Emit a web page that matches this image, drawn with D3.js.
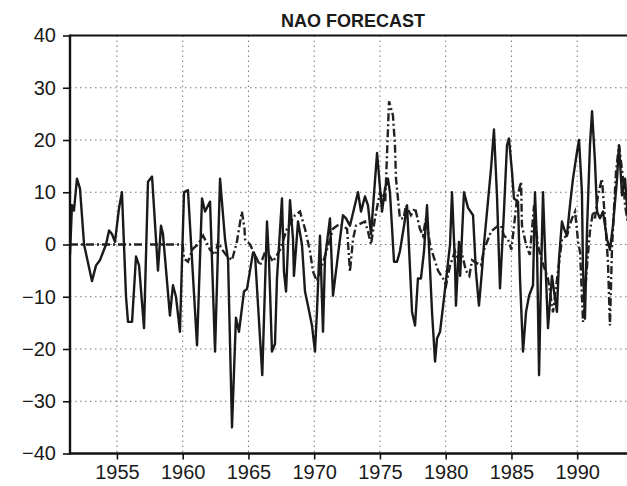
<!DOCTYPE html>
<html>
<head>
<meta charset="utf-8">
<script src="https://cdn.jsdelivr.net/npm/d3@7"></script>
<style>
  html, body { margin: 0; padding: 0; background: #fff; }
  svg { display: block; }
</style>
</head>
<body>
<svg id="chart" width="627" height="486"></svg>
<script>
// Observed NAO index (solid line): decimal year and value
const obsYears = [1951.43,1951.58,1951.73,1951.96,1952.19,1952.5,1953.10,1953.41,1953.71,1954.17,1954.40,1954.62,1954.85,1955.16,1955.38,1955.69,1955.84,1956.15,1956.45,1956.68,1957.06,1957.36,1957.67,1958.12,1958.35,1958.50,1959.03,1959.26,1959.49,1959.79,1960.10,1960.40,1961.09,1961.47,1961.70,1962.08,1962.46,1962.84,1963.22,1963.45,1963.75,1964.05,1964.28,1964.66,1964.89,1965.35,1965.50,1966.05,1966.41,1966.56,1966.79,1967.02,1967.17,1967.55,1967.70,1967.86,1968.16,1968.39,1968.46,1968.77,1969.07,1969.30,1969.53,1969.83,1970.06,1970.21,1970.44,1970.67,1970.82,1971.20,1971.43,1971.81,1972.19,1972.42,1972.72,1973.33,1973.56,1973.86,1974.09,1974.32,1974.78,1975.16,1975.38,1975.61,1975.76,1976.07,1976.30,1976.52,1976.83,1977.06,1977.44,1977.67,1977.89,1978.12,1978.35,1978.58,1978.96,1979.19,1979.34,1979.57,1979.87,1980.33,1980.48,1980.71,1980.78,1981.01,1981.10,1981.39,1981.70,1982.08,1982.30,1982.53,1982.76,1982.91,1983.45,1983.67,1983.90,1984.13,1984.43,1984.66,1984.81,1985.04,1985.19,1985.50,1985.65,1985.88,1986.11,1986.34,1986.64,1986.79,1986.94,1987.10,1987.25,1987.40,1987.63,1987.78,1988.08,1988.24,1988.46,1988.62,1988.84,1989.00,1989.22,1989.45,1989.68,1989.99,1990.14,1990.36,1990.44,1990.59,1990.75,1990.97,1991.13,1991.35,1991.51,1991.73,1991.96,1992.27,1992.49,1992.72,1993.03,1993.18,1993.41,1993.64,1993.85];
const obsValues = [-2,7.5,6.5,12.6,10.7,0,-7,-4,-3,0,2.7,2,0.5,7,10,-10,-14.8,-14.8,-2.3,-4,-16,12,13,-5,3.6,2,-13.6,-7.8,-10,-16.7,10,10.4,-19.3,8.8,6.3,8.2,-20.5,12.6,1,-3,-35,-14,-16.7,-9,-8.5,-1.5,-2,-25,4.4,-2.7,-20.5,-19,-6.5,8.8,-5.2,-9,8.5,1,-6,4.4,0,-9,-11.7,-15.5,-20.5,-12.9,1.7,-16.7,-2.7,5,-9.8,-2,5.6,5,3.6,10,6.3,9.2,7.5,2,17.5,6.3,10.7,12.6,10,-3.3,-3.3,-1.3,3.6,7.5,-12.9,-15.5,-6.5,-6.5,-1.3,7.5,-12.9,-22.4,-18,-16.7,-10.3,0,10,-4,-11.7,0.5,-6,10,7,5.6,-5.2,-11.7,-5,0,14.6,22,9.4,-8.4,6.3,19,20.3,14,8.8,8.2,-6.5,-20.5,-12.9,-9.8,-7.8,10,0,-25,-6,10,-6.5,-16,-6,-9,-12.9,-2.7,4.4,3,1.7,7.5,12.6,17.8,20,10,-4.6,-14.2,3,19,25.5,16,6.3,5,6.3,1,-1,3.6,12.6,19,9.4,12.6,5];

// Forecast NAO index (dash-dot line)
const fcstYears = [1951.43,1960.0,1960.10,1960.40,1960.78,1961.16,1961.55,1962.08,1962.46,1962.70,1963.0,1963.30,1963.75,1964.12,1964.50,1964.70,1964.74,1965.12,1965.50,1965.88,1966.33,1966.87,1967.40,1967.93,1968.54,1968.92,1969.30,1969.68,1969.91,1970.21,1970.59,1970.97,1971.43,1971.96,1972.50,1972.72,1972.95,1973.18,1973.86,1974.09,1974.32,1974.62,1975.0,1975.4,1975.69,1975.99,1976.14,1976.22,1976.52,1976.8,1976.98,1977.36,1977.67,1978.04,1978.27,1978.50,1978.81,1979.04,1979.42,1979.80,1980.03,1980.33,1980.71,1981.09,1981.16,1981.54,1981.8,1982.0,1982.68,1982.91,1983.22,1983.45,1983.98,1984.20,1984.43,1984.74,1985.0,1985.42,1985.73,1985.80,1986.11,1986.4,1986.72,1987.0,1987.3,1987.78,1988.16,1988.4,1988.84,1989.22,1989.60,1989.84,1990.07,1990.22,1990.44,1990.75,1990.97,1991.20,1991.35,1991.58,1991.88,1992.11,1992.34,1992.49,1992.65,1992.95,1993.18,1993.49,1993.64,1993.85];
const fcstValues = [0,0,-2.7,-3.3,-0.8,0,1.7,-1,-2,0.5,-1,-2,-3,0.5,6.3,3,1,0,-2,-4,-1,-3.3,-1,3,5.6,6.3,3,-1.3,-5.2,-7,-4,-1,3,4,3,-5.2,1,3.6,4.4,2.5,0,5,10,8,27.4,24.7,19,12.6,5,5,7.5,5.6,7,3,1.7,5,0,-2,-5,-6.5,-7.8,-4,-1.3,-4,-1,-5,-6,-3,-4,-1,1,2.5,3.6,3.6,1.7,1,-1,8.8,12,3.6,0,-2,7.5,0,-3,-6.5,-13,-8,1,1.7,5,6.3,0.5,-1.5,-14.8,-4,2.5,6.3,5,9.4,12.6,5,-3.3,-15.5,-0.5,14,19,12.6,7.5,4];

const yTicks = [-40, -30, -20, -10, 0, 10, 20, 30, 40];
const xTicks = [1955, 1960, 1965, 1970, 1975, 1980, 1985, 1990];
const titleText = "NAO FORECAST";

const svg = d3.select("#chart");
const plotLeft = 70, plotTop = 35.5, plotBottom = 453.5, plotRight = 627;

const x = d3.scaleLinear().domain([1951.43, 1994]).range([plotLeft, plotLeft + 42.57 * 13.15]);
const y = d3.scaleLinear().domain([-40, 40]).range([plotBottom, plotTop]);

const font = "'Liberation Sans', Arial, sans-serif";

// dotted grid
const grid = svg.append("g").attr("stroke", "#777").attr("stroke-width", 1)
  .attr("stroke-dasharray", "1.5,3.5").attr("fill", "none");
grid.selectAll("line.h").data(yTicks.filter(v => v > -40 && v < 40)).join("line")
  .attr("class", "h")
  .attr("x1", plotLeft).attr("x2", plotRight)
  .attr("y1", d => y(d)).attr("y2", d => y(d));
grid.selectAll("line.v").data(xTicks).join("line")
  .attr("class", "v")
  .attr("x1", d => x(d)).attr("x2", d => x(d))
  .attr("y1", plotTop).attr("y2", plotBottom);

// series
const obs = obsYears.map((t, i) => [t, obsValues[i]]);
const fcst = fcstYears.map((t, i) => [t, fcstValues[i]]);
const line = d3.line().x(d => x(d[0])).y(d => y(d[1]));

svg.append("defs").append("clipPath").attr("id", "plot")
  .append("rect").attr("x", plotLeft).attr("y", plotTop)
  .attr("width", plotRight - plotLeft).attr("height", plotBottom - plotTop);

const g = svg.append("g").attr("clip-path", "url(#plot)");
g.append("path").datum(fcst).attr("d", line)
  .attr("fill", "none").attr("stroke", "#222").attr("stroke-width", 2.4)
  .attr("stroke-dasharray", "8,3,2,3");
g.append("path").datum(obs).attr("d", line)
  .attr("fill", "none").attr("stroke", "#1a1a1a").attr("stroke-width", 2.4)
  .attr("stroke-linejoin", "round");

// axes
const yAxis = svg.append("g").attr("transform", `translate(${plotLeft},0)`)
  .call(d3.axisLeft(y).tickValues(yTicks).tickSize(7).tickPadding(7)
    .tickFormat(d => d < 0 ? "\u2212" + Math.abs(d) : d));
const xAxis = svg.append("g").attr("transform", `translate(0,${plotBottom})`)
  .call(d3.axisBottom(x).tickValues(xTicks).tickSize(6).tickPadding(5).tickFormat(d3.format("d")));
[yAxis, xAxis].forEach(a => {
  a.select(".domain").remove();
  a.selectAll(".tick line").attr("stroke", "#111").attr("stroke-width", 1.6);
  a.selectAll(".tick text").attr("fill", "#1a1a1a").style("font-family", font).style("font-size", "20px");
});

// frame: left, bottom and top borders
svg.append("line").attr("x1", plotLeft).attr("x2", plotLeft).attr("y1", plotTop - 1).attr("y2", plotBottom + 1)
  .attr("stroke", "#111").attr("stroke-width", 2.4);
svg.append("line").attr("x1", plotLeft).attr("x2", plotRight).attr("y1", plotBottom).attr("y2", plotBottom)
  .attr("stroke", "#111").attr("stroke-width", 2.4);
svg.append("line").attr("x1", plotLeft).attr("x2", plotRight).attr("y1", plotTop).attr("y2", plotTop)
  .attr("stroke", "#111").attr("stroke-width", 2.2);

// title
svg.append("text").attr("x", 353).attr("y", 27).attr("text-anchor", "middle")
  .style("font-family", font).style("font-size", "18px").style("font-weight", "bold")
  .attr("fill", "#1a1a1a").text(titleText);
</script>
</body>
</html>
